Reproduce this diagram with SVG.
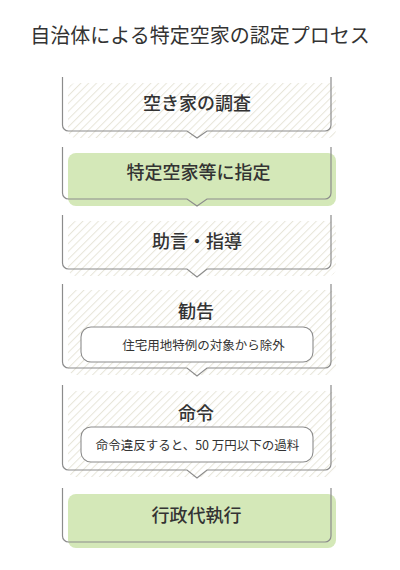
<svg xmlns="http://www.w3.org/2000/svg" width="400" height="570" viewBox="0 0 400 570">
<defs>
<pattern id="hatch" patternUnits="userSpaceOnUse" width="5.5" height="5.5" patternTransform="rotate(45)">
<rect width="5.5" height="5.5" fill="#ffffff"/>
<line x1="0" y1="0" x2="0" y2="5.5" stroke="#e8e6da" stroke-width="2"/>
</pattern>
</defs>
<style>
.t{font-family:"Noto Sans CJK JP","Noto Sans CJK SC",sans-serif;fill:#333333;text-anchor:middle}
.title{font-size:20px}
.lbl{font-size:18px;font-weight:500}
.sm{font-size:12.5px}
.outline{fill:none;stroke:#8c8c8c;stroke-width:1.2}
.hatch{fill:url(#hatch)}
.green{fill:#d4e8b8}
.pill{fill:#ffffff;stroke:#8c8c8c;stroke-width:1.1}
</style>
<rect width="400" height="570" fill="#ffffff"/>
<text class="t title" x="200" y="42.5">自治体による特定空家の認定プロセス</text>

<g id="step1">
<rect class="hatch" x="68" y="83" width="268" height="55" rx="8"/>
<path class="outline" d="M62.5,77 V125 A6,6 0 0 0 68.5,131 H187 L197,138 L207,131 H325 A6,6 0 0 0 331,125 V77"/>
<text class="t lbl" x="197" y="109.5">空き家の調査</text>
</g>

<g id="step2">
<rect class="green" x="68" y="153" width="268" height="53" rx="8"/>
<path class="outline" d="M62.5,147 V193 A6,6 0 0 0 68.5,199 H187 L197,206 L207,199 H325 A6,6 0 0 0 331,193 V147"/>
<text class="t lbl" x="198.5" y="178.5">特定空家等に指定</text>
</g>

<g id="step3">
<rect class="hatch" x="68" y="221" width="268" height="55" rx="8"/>
<path class="outline" d="M62.5,215 V263 A6,6 0 0 0 68.5,269 H187 L197,277 L207,269 H325 A6,6 0 0 0 331,263 V215"/>
<text class="t lbl" x="197" y="248">助言・指導</text>
</g>

<g id="step4">
<rect class="hatch" x="68" y="290" width="268" height="85" rx="8"/>
<path class="outline" d="M62.5,284 V362 A6,6 0 0 0 68.5,368 H187 L197,376 L207,368 H325 A6,6 0 0 0 331,362 V284"/>
<text class="t lbl" x="196" y="318">勧告</text>
<rect class="pill" x="81" y="327" width="232" height="35" rx="10"/>
<text class="t sm" x="203.5" y="350.3">住宅用地特例の対象から除外</text>
</g>

<g id="step5">
<rect class="hatch" x="68" y="391" width="268" height="86" rx="8"/>
<path class="outline" d="M62.5,385 V464 A6,6 0 0 0 68.5,470 H187 L197,478 L207,470 H325 A6,6 0 0 0 331,464 V385"/>
<text class="t lbl" x="196" y="420">命令</text>
<rect class="pill" x="81" y="427" width="232" height="35" rx="10"/>
<text class="t sm" x="197.5" y="449.8">命令違反すると、50 万円以下の過料</text>
</g>

<g id="step6">
<rect class="green" x="68" y="494" width="268" height="54" rx="8"/>
<path class="outline" d="M62.5,488 V536 A6,6 0 0 0 68.5,542 H325 A6,6 0 0 0 331,536 V488"/>
<text class="t lbl" x="196.5" y="522">行政代執行</text>
</g>

<g id="connectors"></g>
</svg>
